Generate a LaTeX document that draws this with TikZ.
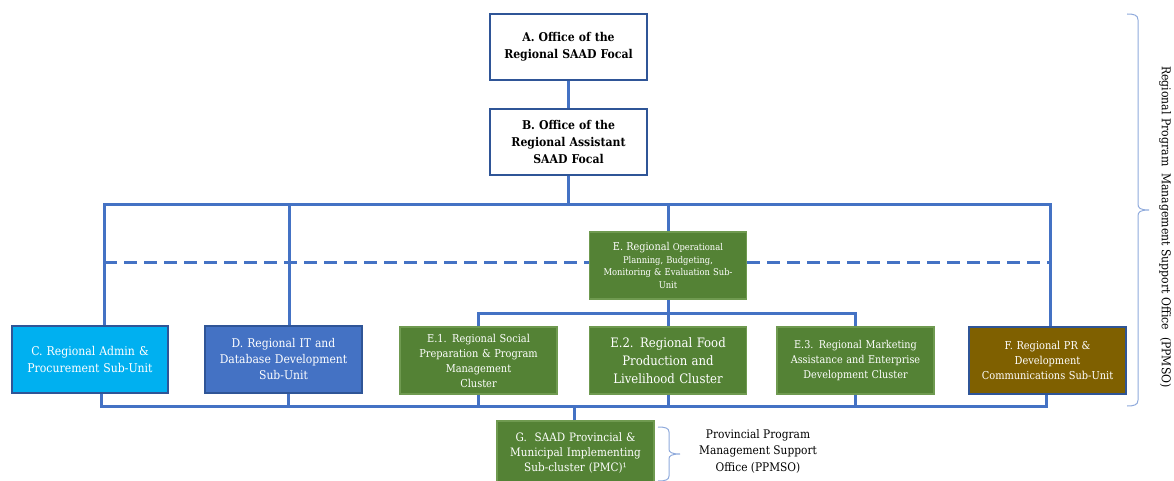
\documentclass[tikz,border=0pt]{standalone}
\usepackage{fontspec}
\setmainfont{DejaVu Serif Condensed}
\usetikzlibrary{calc}
\definecolor{linkblue}{HTML}{4472C4}
\definecolor{edgeblue}{HTML}{2F5597}
\definecolor{cyanfill}{HTML}{00B0F0}
\definecolor{bluefill}{HTML}{4472C4}
\definecolor{greenfill}{HTML}{548235}
\definecolor{greenedge}{HTML}{6F9A50}
\definecolor{brownfill}{HTML}{7F6000}
\definecolor{bracecol}{HTML}{8FAADC}
\tikzset{
  unitbox/.style={draw, line width=1.2pt, minimum width=#1, inner sep=0pt, align=center, text width=#1-6pt},
  whitebox/.style={unitbox=157pt, draw=edgeblue, fill=white, minimum height=66pt, font=\fontsize{12.1}{16.7}\selectfont\bfseries},
  cyanbox/.style={unitbox=156pt, draw=edgeblue, fill=cyanfill, text=white, minimum height=67pt, font=\fontsize{12.1}{17}\selectfont},
  bluebox/.style={unitbox=157pt, draw=edgeblue, fill=bluefill, text=white, minimum height=67pt, font=\fontsize{12}{16}\selectfont},
  greenbox/.style={unitbox=157pt, draw=greenedge, fill=greenfill, text=white, minimum height=67pt, font=\fontsize{10.9}{15}\selectfont},
  brownbox/.style={unitbox=157pt, draw=edgeblue, fill=brownfill, text=white, minimum height=67pt, font=\fontsize{10.9}{15}\selectfont},
  conn/.style={draw=linkblue, line width=3pt},
  dashconn/.style={conn, dash pattern=on 13pt off 7pt},
  brace/.style={draw=bracecol, line width=1pt},
  sidetext/.style={align=center, font=\fontsize{11.8}{16.5}\selectfont}
}
\begin{document}
\begin{tikzpicture}[x=1pt, y=-1pt]
\useasboundingbox (0,0) rectangle (1174,481);

% boxes
\node[whitebox] (A) at (568.5,47) {A. Office of the\\Regional SAAD Focal};
\node[whitebox] (B) at (568.5,142) {B. Office of the\\Regional Assistant\\SAAD Focal};
\node[greenbox, font=\fontsize{9.3}{12.5}\selectfont] (E) at (668,265.5)
  {{\fontsize{10.8}{12.5}\selectfont E. Regional} Operational\\Planning, Budgeting,\\Monitoring \& Evaluation Sub-\\Unit};
\node[cyanbox] (C) at (90,359.5) {C. Regional Admin \&\\Procurement Sub-Unit};
\node[bluebox] (D) at (283.5,359.5) {D. Regional IT and\\Database Development\\Sub-Unit};
\node[greenbox] (E1) at (478.5,360.5) {E.1. Regional Social\\Preparation \& Program\\Management\\Cluster};
\node[greenbox, font=\fontsize{13}{18}\selectfont] (E2) at (668,360.5) {E.2. Regional Food\\Production and\\Livelihood Cluster};
\node[greenbox, font=\fontsize{10.75}{15}\selectfont] (E3) at (855.5,360.5) {E.3. Regional Marketing\\Assistance and Enterprise\\Development Cluster};
\node[brownbox] (F) at (1047.5,360.5) {F. Regional PR \&\\Development\\Communications Sub-Unit};
\node[greenbox, minimum height=64pt, font=\fontsize{11.6}{15}\selectfont] (G) at (575.5,453) {G.\ \ SAAD Provincial \&\\Municipal Implementing\\Sub-cluster (PMC)¹};

% bus lines
\coordinate (busL) at (104,204);
\coordinate (busR) at (1050,204);
\coordinate (dashL) at (104,262);
\coordinate (dashR) at (1050,262);
\coordinate (subbus) at (668,313);
\coordinate (lowL) at (101,406);
\coordinate (lowR) at (1046,406);
\coordinate (dx) at (289,0);

\draw[conn] (A.south) -- (B.north);
\draw[conn] (B.south) -- (B.south |- busL);
\draw[conn] (C.north -| busL) -- (busL) -- (busR) -- (F.north -| busR);
\draw[conn] (D.north -| dx) -- (dx |- busL);
\draw[conn] (E.north) -- (E.north |- busL);
\draw[dashconn] (dashL) -- (E.west |- dashL);
\draw[dashconn] (E.east |- dashR) -- (dashR);
\draw[conn] (E.south) -- (E2.north);
\draw[conn] (E1.north) |- (subbus) -| (E3.north);
\draw[conn] (C.south -| lowL) -- (lowL) -- (lowR) -- (F.south -| lowR);
\draw[conn] (D.south -| 288,0) -- (288,406);
\draw[conn] (E1.south) -- (E1.south |- lowL);
\draw[conn] (E2.south) -- (E2.south |- lowL);
\draw[conn] (E3.south) -- (E3.south |- lowL);
\draw[conn] (G.north -| 574,0) -- (574,406);

% braces and their labels
\draw[brace] (1127,14) .. controls (1134,14) and (1138,15) .. (1138,20) -- (1138,204)
  .. controls (1138,208) and (1140,210) .. (1149,210)
  .. controls (1140,210) and (1138,212) .. (1138,216) -- (1138,400)
  .. controls (1138,405) and (1134,406) .. (1127,406);
\node[sidetext, rotate=-90, font=\fontsize{12.1}{16.5}\selectfont] (rp) at (1165,227) {Regional Program\ \ Management Support Office\ \ (PPMSO)};

\draw[brace] (658,427) .. controls (665,427) and (669,428) .. (669,432) -- (669,449)
  .. controls (669,452) and (671,454) .. (680,454)
  .. controls (671,454) and (669,456) .. (669,459) -- (669,476)
  .. controls (669,480) and (665,481) .. (658,481);
\node[sidetext] (pp) at (758,451) {Provincial Program\\Management Support\\Office (PPMSO)};
\end{tikzpicture}
\end{document}
